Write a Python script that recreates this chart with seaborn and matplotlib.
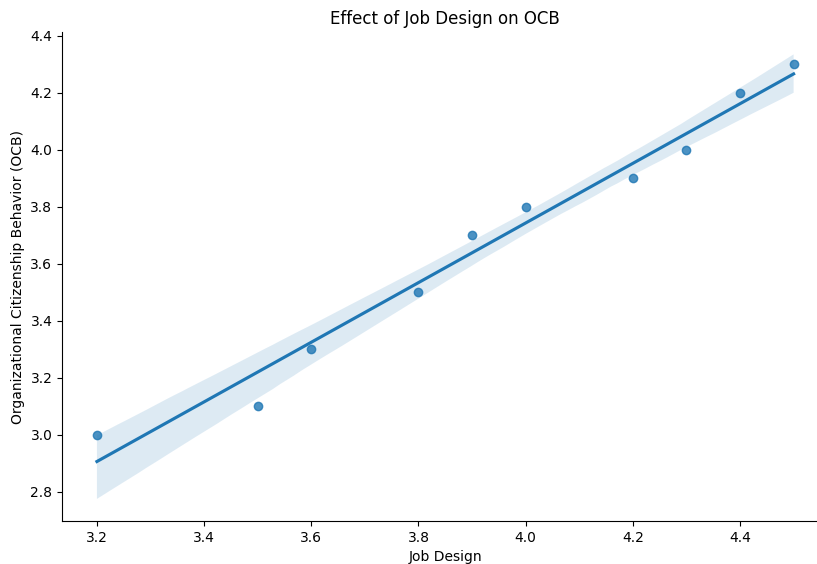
import matplotlib
matplotlib.use("Agg")
import matplotlib.pyplot as plt
import seaborn as sns
import pandas as pd

job_design = [3.2, 3.5, 3.6, 3.8, 3.9, 4.0, 4.2, 4.3, 4.4, 4.5]
ocb = [3.0, 3.1, 3.3, 3.5, 3.7, 3.8, 3.9, 4.0, 4.2, 4.3]

df = pd.DataFrame({"Job Design": job_design, "Organizational Citizenship Behavior (OCB)": ocb})

fig, ax = plt.subplots(figsize=(8.17, 5.64), dpi=100)
sns.regplot(data=df, x="Job Design", y="Organizational Citizenship Behavior (OCB)", ax=ax, seed=0)
ax.set_title("Effect of Job Design on OCB")
sns.despine(ax=ax)
fig.subplots_adjust(left=0.076, right=1.014, top=0.943, bottom=0.076)
fig.savefig("out.png", dpi=100)
